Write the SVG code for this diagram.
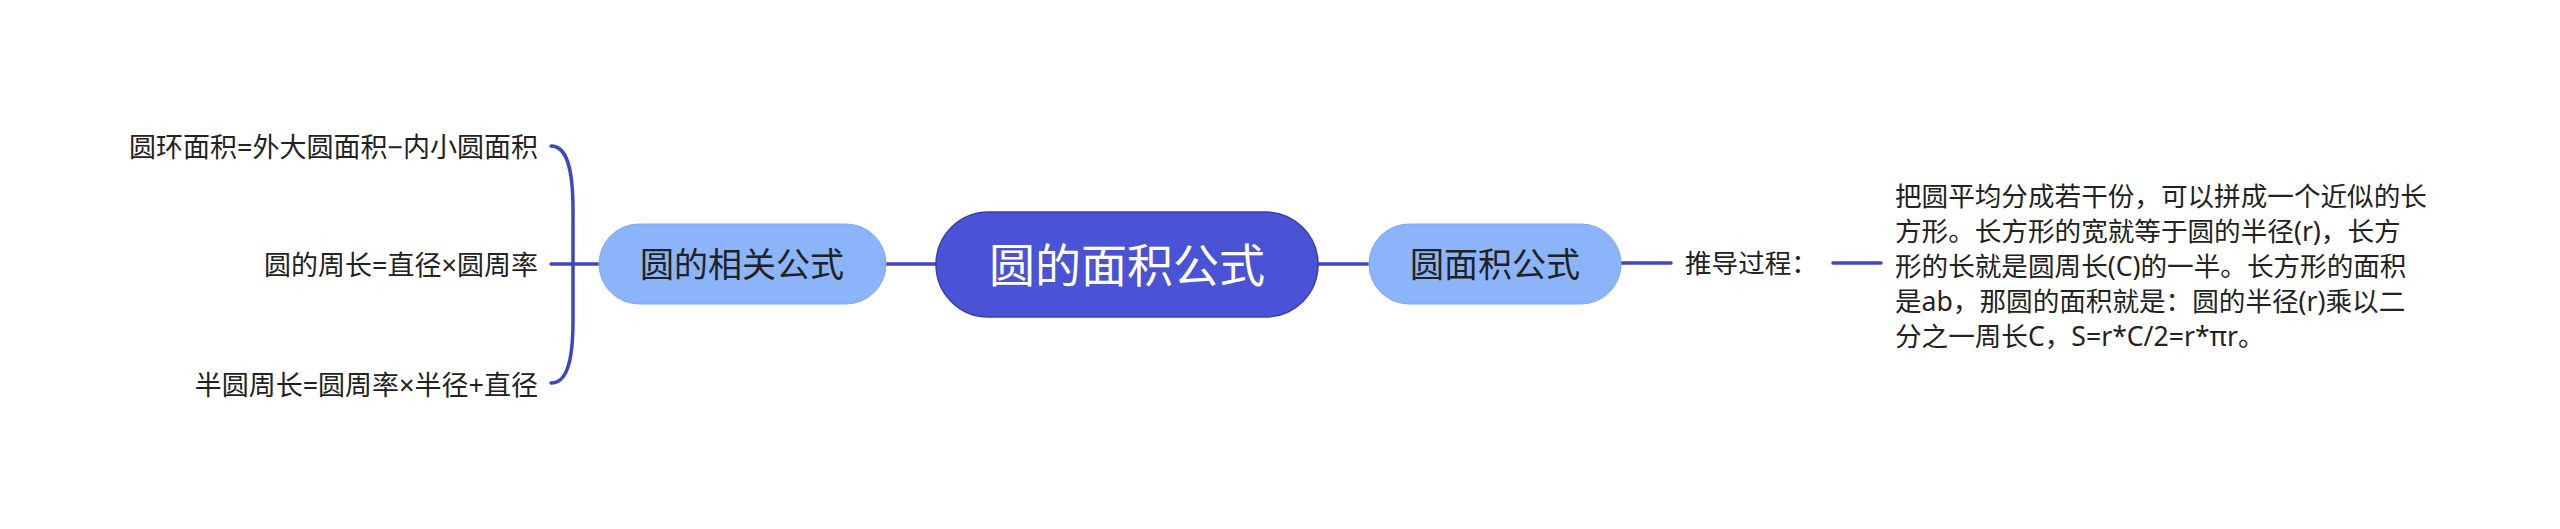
<svg xmlns="http://www.w3.org/2000/svg" width="2560" height="529" viewBox="0 0 2560 529">
<style>
.t{font-family:"Noto Sans","Noto Sans CJK SC",sans-serif;fill:#222;dominant-baseline:central}
.s{font-size:26.6px}
.l{font-size:27px;text-anchor:end}
.m{font-size:34px;text-anchor:middle}
.c{font-size:46px;text-anchor:middle;fill:#fff}
.ln{fill:none;stroke:#3f46c2;stroke-width:3.5;stroke-linecap:round}
.lt{fill:#8cb4fa;stroke:#7fa8f0;stroke-width:1}
</style>
<rect width="2560" height="529" fill="#fff"/>
<g id="connectors">
<path class="ln" d="M886 264H936"/>
<path class="ln" d="M1318 264H1369"/>
<path class="ln" d="M1621 263H1671"/>
<path class="ln" d="M1833 263H1881"/>
<path class="ln" d="M551 264H599"/>
<path class="ln" d="M551 146C566 146 573 166 573 210L573 320C573 364 566 383 551 383"/>
</g>
<g id="center">
<rect x="936" y="212" width="382" height="105" rx="52.5" fill="#4a52d6" stroke="#3a40b0" stroke-width="1.5"/>
<text class="t c" x="1127" y="264">圆的面积公式</text>
</g>
<g id="left-node">
<rect class="lt" x="599" y="224" width="287" height="80" rx="40"/>
<text class="t m" x="742" y="264">圆的相关公式</text>
</g>
<g id="right-node">
<rect class="lt" x="1369" y="224" width="252" height="80" rx="40"/>
<text class="t m" x="1495" y="264">圆面积公式</text>
</g>
<g id="leaf-1"><text class="t l" x="538" y="146">圆环面积=外大圆面积−内小圆面积</text></g>
<g id="leaf-2"><text class="t l" x="538" y="264">圆的周长=直径×圆周率</text></g>
<g id="leaf-3"><text class="t l" x="538" y="384">半圆周长=圆周率×半径+直径</text></g>
<g id="derivation"><text class="t s" x="1685" y="263">推导过程：</text></g>
<g id="explanation">
<text class="t s" x="1895" y="196">把圆平均分成若干份，可以拼成一个近似的长</text>
<text class="t s" x="1895" y="231">方形。长方形的宽就等于圆的半径(r)，长方</text>
<text class="t s" x="1895" y="266">形的长就是圆周长(C)的一半。长方形的面积</text>
<text class="t s" x="1895" y="301">是ab，那圆的面积就是：圆的半径(r)乘以二</text>
<text class="t s" x="1895" y="336">分之一周长C，S=r*C/2=r*πr。</text>
</g>
</svg>
